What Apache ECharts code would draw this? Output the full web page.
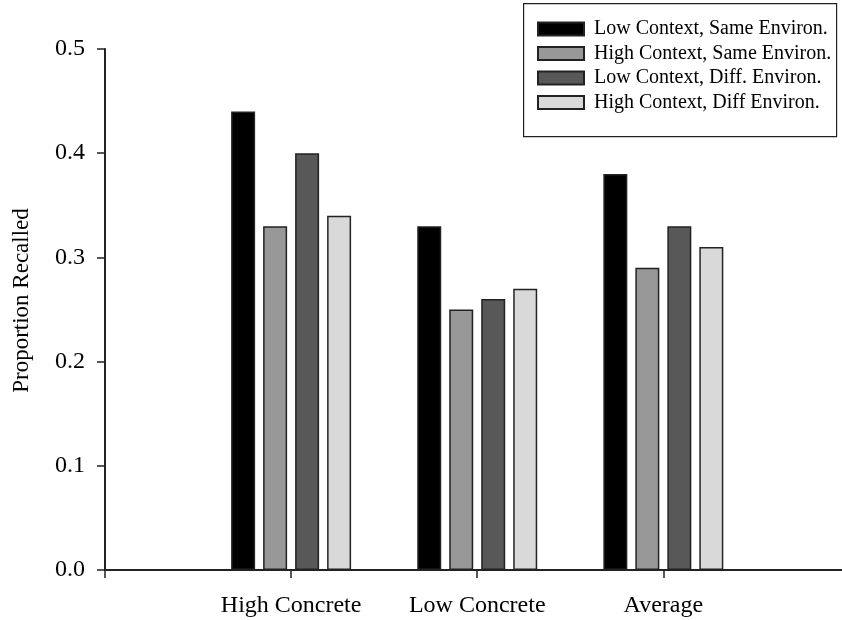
<!DOCTYPE html>
<html>
<head>
<meta charset="utf-8">
<script src="https://cdn.jsdelivr.net/npm/echarts@6/dist/echarts.min.js"></script>
<style>html,body{margin:0;padding:0;background:#fff}#c{width:842px;height:620px}</style>
</head>
<body>
<div id="c"></div>
<script>
var categories = ['High Concrete', 'Low Concrete', 'Average'];
var seriesNames = ['Low Context, Same Environ.', 'High Context, Same Environ.', 'Low Context, Diff. Environ.', 'High Context, Diff Environ.'];
var lowSame = [0.44, 0.33, 0.38];
var highSame = [0.33, 0.25, 0.29];
var lowDiff = [0.40, 0.26, 0.33];
var highDiff = [0.34, 0.27, 0.31];
var yTicks = [0.0, 0.1, 0.2, 0.3, 0.4, 0.5];

var colors = ['#000000', '#989898', '#585858', '#d9d9d9'];
var allValues = [lowSame, highSame, lowDiff, highDiff];
var FONT = '"Liberation Serif", "Times New Roman", serif';

var series = allValues.map(function (vals, si) {
  return {
    name: seriesNames[si],
    type: 'bar',
    barWidth: 24,
    barGap: '33.3%',
    itemStyle: { color: colors[si], borderColor: '#222', borderWidth: 1.5 },
    data: vals.map(function (v, i) { return [i + 1, v]; })
  };
});

var chart = echarts.init(document.getElementById('c'));
chart.setOption({
  animation: false,
  backgroundColor: '#fff',
  grid: { left: 105, right: 0, top: 49, bottom: 50, containLabel: false },
  graphic: [{
    type: 'rect', left: 523, top: 3, z: 0,
    shape: { width: 313, height: 133 },
    style: { fill: '#fff', stroke: '#222', lineWidth: 1.2 }
  }],
  legend: {
    orient: 'vertical', left: 537, top: 19, padding: 0,
    itemWidth: 46, itemHeight: 13, itemGap: 4.5,
    icon: 'rect', z: 5,
    textStyle: { fontFamily: FONT, fontSize: 20, color: '#000', lineHeight: 20, padding: [0, 0, 0, 5] },
    data: seriesNames
  },
  xAxis: {
    type: 'value', min: 0, max: 3.96, interval: 1,
    splitLine: { show: false },
    axisLine: { show: true, lineStyle: { color: '#222', width: 2 } },
    axisTick: { show: true, length: 8, lineStyle: { color: '#222', width: 1.5 } },
    axisLabel: {
      margin: 24, fontFamily: FONT, fontSize: 24, color: '#000',
      showMaxLabel: false,
      formatter: function (v) { return categories[Math.round(v) - 1] || ''; }
    }
  },
  yAxis: {
    type: 'value', min: yTicks[0], max: yTicks[yTicks.length - 1], interval: 0.1,
    name: 'Proportion Recalled', nameLocation: 'middle', nameGap: 72,
    nameTextStyle: { fontFamily: FONT, fontSize: 23, color: '#000', padding: [0, 0, 0, 18] },
    splitLine: { show: false },
    axisLine: { show: true, lineStyle: { color: '#222', width: 2 } },
    axisTick: { show: true, length: 8, lineStyle: { color: '#222', width: 1.5 } },
    axisLabel: {
      margin: 20, fontFamily: FONT, fontSize: 24, color: '#000',
      formatter: function (v) { return v.toFixed(1); }
    }
  },
  series: series
});
</script>
</body>
</html>
